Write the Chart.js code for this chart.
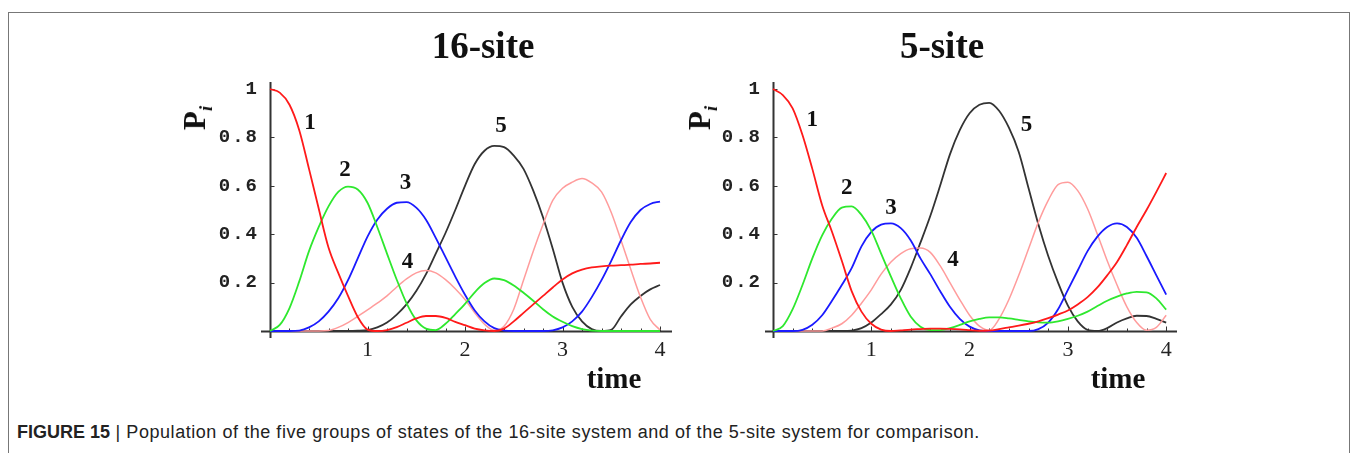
<!DOCTYPE html>
<html>
<head>
<meta charset="utf-8">
<script src="https://cdn.jsdelivr.net/npm/chart.js@4.4.1/dist/chart.umd.min.js"></script>
<style>
  body { margin: 0; background: #fff; width: 1358px; height: 453px; overflow: hidden; position: relative; font-family: "Liberation Serif", serif; color: #111; }
  .frame { position: absolute; left: 8px; top: 12px; width: 1340px; height: 470px; border: 1px solid #777; }
  canvas { position: absolute; top: 0; }
  .lbl { position: absolute; transform: translate(-50%, -50%); white-space: nowrap; font-weight: bold; }
  .title { font-size: 37px; }
  .time { font-size: 29px; }
  .pi { font-size: 31px; transform: translate(-50%, -50%) rotate(-90deg); }
  .pi i { font-size: 19px; font-weight: bold; position: relative; top: 7px; }
  .caption { position: absolute; left: 17px; top: 422px; font-family: "Liberation Sans", sans-serif; font-size: 18px; color: #222; white-space: nowrap; letter-spacing: 0.55px; }
  .caption b { font-weight: bold; letter-spacing: 0; }
</style>
</head>
<body>
<div class="frame"></div>
<canvas id="chart16" width="680" height="400" style="left:0px"></canvas>
<canvas id="chart5" width="678" height="400" style="left:680px"></canvas>

<div class="lbl title" style="left:483px; top:45px">16-site</div>
<div class="lbl title" style="left:942px; top:45px">5-site</div>
<div class="lbl pi" style="left:195px; top:118px">P<i>i</i></div>
<div class="lbl pi" style="left:700px; top:118px">P<i>i</i></div>
<div class="lbl time" style="left:614px; top:378px">time</div>
<div class="lbl time" style="left:1118px; top:378px">time</div>
<div class="caption"><b>FIGURE 15</b> | Population of the five groups of states of the 16-site system and of the 5-site system for comparison.</div>

<script>
// time axis (step 0.1)
const times = [0, 0.1, 0.2, 0.3, 0.4, 0.5, 0.6, 0.7, 0.8, 0.9,
  1, 1.1, 1.2, 1.3, 1.4, 1.5, 1.6, 1.7, 1.8, 1.9,
  2, 2.1, 2.2, 2.3, 2.4, 2.5, 2.6, 2.7, 2.8, 2.9,
  3, 3.1, 3.2, 3.3, 3.4, 3.5, 3.6, 3.7, 3.8, 3.9, 4];

// 16-site populations
const red16 = [1, 0.985, 0.935, 0.83, 0.67, 0.505, 0.345, 0.24, 0.145, 0.058,
  0.006, 0, 0.004, 0.016, 0.034, 0.052, 0.062, 0.062, 0.054, 0.038,
  0.024, 0.01, 0.003, 0, 0.01, 0.04, 0.075, 0.11, 0.145, 0.18,
  0.213, 0.238, 0.254, 0.263, 0.267, 0.27, 0.272, 0.274, 0.277, 0.279, 0.282];
const green16 = [0, 0.025, 0.095, 0.205, 0.33, 0.43, 0.515, 0.575, 0.597, 0.585,
  0.53, 0.43, 0.32, 0.212, 0.115, 0.045, 0.01, 0.004, 0.03, 0.07,
  0.112, 0.16, 0.198, 0.217, 0.21, 0.188, 0.158, 0.125, 0.09, 0.06,
  0.038, 0.02, 0.008, 0.002, 0, 0, 0, 0, 0, 0, 0];
const blue16 = [0, 0, 0, 0.002, 0.015, 0.04, 0.08, 0.135, 0.21, 0.3,
  0.39, 0.46, 0.505, 0.53, 0.533, 0.51, 0.46, 0.385, 0.305, 0.225,
  0.15, 0.085, 0.04, 0.012, 0.002, 0, 0, 0, 0, 0.003,
  0.015, 0.04, 0.08, 0.14, 0.21, 0.29, 0.375, 0.45, 0.5, 0.525, 0.535];
const pink16 = [0, 0, 0, 0, 0, 0, 0.002, 0.015, 0.035, 0.06,
  0.087, 0.115, 0.145, 0.182, 0.215, 0.24, 0.25, 0.24, 0.212, 0.175,
  0.13, 0.075, 0.028, 0.003, 0.02, 0.09, 0.21, 0.33, 0.44, 0.54,
  0.59, 0.615, 0.63, 0.612, 0.575, 0.49, 0.375, 0.255, 0.14, 0.048, 0.004];
const black16 = [0, 0, 0, 0, 0, 0, 0, 0, 0, 0.001,
  0.004, 0.015, 0.035, 0.068, 0.11, 0.165, 0.235, 0.32, 0.405, 0.5,
  0.6, 0.69, 0.745, 0.765, 0.76, 0.725, 0.67, 0.58, 0.47, 0.34,
  0.2, 0.1, 0.04, 0.008, 0, 0.005, 0.06, 0.11, 0.145, 0.172, 0.19];

// 5-site populations
const red5 = [1, 0.975, 0.92, 0.81, 0.67, 0.52, 0.41, 0.29, 0.165, 0.08,
  0.03, 0.006, 0, 0.003, 0.006, 0.008, 0.01, 0.01, 0.009, 0.007,
  0.004, 0.001, 0.002, 0.008, 0.015, 0.022, 0.03, 0.04, 0.053, 0.068,
  0.085, 0.11, 0.14, 0.18, 0.23, 0.285, 0.355, 0.43, 0.5, 0.575, 0.653];
const green5 = [0, 0.02, 0.09, 0.19, 0.3, 0.395, 0.465, 0.51, 0.515, 0.48,
  0.415, 0.32, 0.225, 0.135, 0.06, 0.018, 0.004, 0.004, 0.012, 0.025,
  0.04, 0.05, 0.056, 0.056, 0.052, 0.046, 0.04, 0.036, 0.035, 0.04,
  0.05, 0.063, 0.08, 0.103, 0.125, 0.142, 0.155, 0.162, 0.16, 0.135, 0.088];
const blue5 = [0, 0, 0, 0.005, 0.026, 0.065, 0.125, 0.19, 0.26, 0.35,
  0.41, 0.44, 0.445, 0.425, 0.375, 0.3, 0.235, 0.165, 0.1, 0.05,
  0.018, 0.003, 0, 0, 0, 0, 0, 0.008, 0.035, 0.09,
  0.17, 0.25, 0.33, 0.39, 0.43, 0.445, 0.43, 0.385, 0.31, 0.23, 0.15];
const pink5 = [0, 0, 0, 0, 0, 0, 0.012, 0.03, 0.065, 0.115,
  0.17, 0.235, 0.285, 0.32, 0.34, 0.343, 0.325, 0.27, 0.2, 0.13,
  0.065, 0.02, 0.003, 0.05, 0.13, 0.23, 0.34, 0.45, 0.54, 0.605,
  0.615, 0.58, 0.505, 0.4, 0.29, 0.19, 0.1, 0.035, 0.003, 0.015, 0.065];
const black5 = [0, 0, 0, 0, 0, 0, 0, 0, 0.002, 0.012,
  0.035, 0.07, 0.11, 0.17, 0.26, 0.365, 0.475, 0.6, 0.73, 0.83,
  0.9, 0.935, 0.943, 0.91, 0.84, 0.74, 0.59, 0.44, 0.31, 0.2,
  0.105, 0.04, 0.005, 0, 0.012, 0.035, 0.052, 0.063, 0.062, 0.05, 0.035];

// tick labels
const xTicks = [1, 2, 3, 4];
const yTicks = [0.2, 0.4, 0.6, 0.8, 1];
const yTickLabels = ['0.2', '0.4', '0.6', '0.8', '1'];

// curve numbers, placed in data coordinates
const curveNames = ['1', '2', '3', '4', '5'];
const namePos16 = [[0.41, 0.86], [0.77, 0.665], [1.39, 0.61], [1.41, 0.285], [2.37, 0.847]];
const namePos5 = [[0.40, 0.87], [0.75, 0.59], [1.20, 0.51], [1.83, 0.293], [2.58, 0.85]];

const colors = ['#ff1a1a', '#2ee82e', '#1a1aff', '#ff9c9c', '#333333'];

// Mathematica-style axes crossing at the origin
const mathAxes = {
  id: 'mathAxes',
  beforeDatasetsDraw(chart) {
    const ctx = chart.ctx;
    const x = chart.scales.x, y = chart.scales.y;
    const x0 = Math.round(x.getPixelForValue(0)) + 0.5;
    const y0 = Math.round(y.getPixelForValue(0)) + 0.5;
    ctx.save();
    ctx.strokeStyle = '#333';
    ctx.lineWidth = 2;
    ctx.beginPath();
    ctx.moveTo(x.left, y0); ctx.lineTo(x.right, y0);
    ctx.moveTo(x0, y.top); ctx.lineTo(x0, y.bottom);
    ctx.stroke();

    ctx.lineWidth = 1;
    ctx.beginPath();
    for (let k = 1; k <= 20; k++) {
      const px = Math.round(x.getPixelForValue(k * 0.2)) + 0.5;
      const len = k % 5 === 0 ? 5 : 3;
      ctx.moveTo(px, y0); ctx.lineTo(px, y0 - len);
    }
    yTicks.forEach(v => {
      const py = Math.round(y.getPixelForValue(v)) + 0.5;
      ctx.moveTo(x0, py); ctx.lineTo(x0 + 4, py);
    });
    ctx.stroke();
    ctx.restore();
  },
  afterDraw(chart, args, opts) {
    const ctx = chart.ctx;
    const x = chart.scales.x, y = chart.scales.y;
    const x0 = x.getPixelForValue(0);
    const y0 = y.getPixelForValue(0);
    ctx.save();
    ctx.fillStyle = '#222';

    // y tick labels
    ctx.font = 'bold 19px "Liberation Mono", "DejaVu Sans Mono", monospace';
    ctx.letterSpacing = '2px';
    ctx.textAlign = 'right';
    ctx.textBaseline = 'middle';
    yTicks.forEach((v, i) => {
      ctx.fillText(yTickLabels[i], x0 - 11, y.getPixelForValue(v));
    });
    ctx.letterSpacing = '0px';

    // x tick labels
    ctx.font = '22px "Liberation Serif", serif';
    ctx.textAlign = 'center';
    xTicks.forEach(v => {
      ctx.fillText(String(v), x.getPixelForValue(v), y0 + 19);
    });

    // curve numbers
    ctx.font = 'bold 23px "Liberation Serif", serif';
    ctx.fillStyle = '#111';
    opts.names.forEach((p, i) => {
      ctx.fillText(curveNames[i], x.getPixelForValue(p[0]), y.getPixelForValue(p[1]));
    });
    ctx.restore();
  }
};

function makeChart(id, series, names, xMin, xMax, pad) {
  const sets = series.map((vals, i) => ({
    data: times.map((t, j) => ({ x: t, y: vals[j] })),
    borderColor: colors[i],
    borderWidth: i === 3 ? 1.5 : 1.8,
    pointRadius: 0,
    cubicInterpolationMode: 'monotone',
    fill: false
  }));
  return new Chart(document.getElementById(id), {
    type: 'line',
    data: { datasets: sets },
    options: {
      responsive: false,
      animation: false,
      events: [],
      layout: { padding: pad },
      scales: {
        x: { type: 'linear', min: xMin, max: xMax, display: false },
        y: { type: 'linear', min: -0.0289, max: 1.029, display: false }
      },
      plugins: {
        legend: { display: false },
        tooltip: { enabled: false },
        mathAxes: { names: names }
      }
    },
    plugins: [mathAxes]
  });
}

makeChart('chart16', [red16, green16, blue16, pink16, black16], namePos16,
  -0.0923, 4.123, { left: 261, right: 8, top: 82, bottom: 62 });
makeChart('chart5', [red5, green5, blue5, pink5, black5], namePos5,
  -0.0814, 4.11, { left: 85, right: 181, top: 82, bottom: 62 });
</script>
</body>
</html>
